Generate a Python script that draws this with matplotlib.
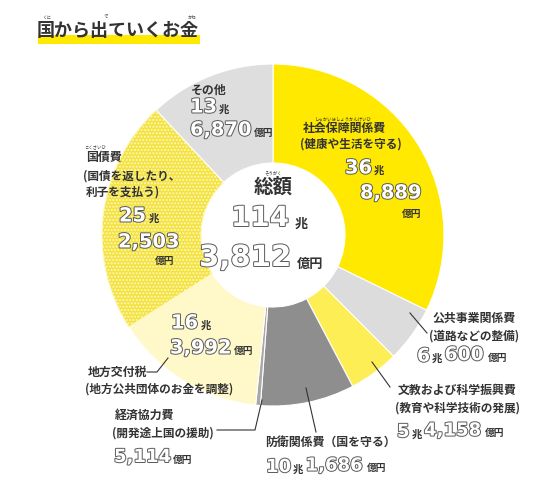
import matplotlib.pyplot as plt
import matplotlib.patheffects as pe
from matplotlib.patches import Rectangle

plt.rcParams['font.family'] = ['Noto Sans CJK JP', 'DejaVu Sans']
plt.rcParams['hatch.linewidth'] = 1.0

# 歳出 (clockwise from 12 o'clock)
names = ['社会保障関係費', '公共事業関係費', '文教および科学振興費', '防衛関係費',
         '経済協力費', '地方交付税', '国債費', 'その他']
cho = [36, 6, 5, 10, 0, 16, 25, 13]          # 兆
oku = [8889, 600, 4158, 1686, 5114, 3992, 2503, 6870]  # 億円
colors = ['#FFE900', '#DCDCDC', '#FDEE55', '#8E8E8E', '#A8A8A8',
          '#FFF8C9', '#F3E23E', '#DEDEDE']
values = [c * 10000 + o for c, o in zip(cho, oku)]
total = sum(values)
total_cho, total_oku = divmod(total, 10000)

fig = plt.figure(figsize=(5.4, 5.04), dpi=100)
ax = fig.add_axes([0, 0, 1, 1])

wedges, _ = ax.pie(values, colors=colors, center=(273, 235), radius=171,
                   startangle=-90, counterclock=True,
                   wedgeprops=dict(width=99, edgecolor='white', linewidth=0.8))
wedges[6].set_hatch('.....')
wedges[6].set_edgecolor('#FFF8C0')

ax.set_xlim(0, 540)
ax.set_ylim(504, 0)
ax.set_aspect('equal')
ax.axis('off')

INK = '#333333'
outline = [pe.Stroke(linewidth=1.4, foreground='#5a5a5a'), pe.Normal()]


def label(x, y, s, size=8.6):
    ax.text(x, y, s, fontsize=size, fontweight='bold', color=INK, va='center', ha='left')


def ruby(x, y, s):
    ax.text(x, y, s, fontsize=3.2, color=INK, va='center', ha='center')


def num(x, y, s, size=14):
    return ax.text(x, y, s, fontsize=size, color='white', va='center', ha='left',
                   family='DejaVu Sans', fontweight='bold', path_effects=outline)


def after(prev, s, size=7.5, gap=1.5, digits=False):
    # put the next piece just right of the previous text
    kw = dict(fontsize=size, va='bottom', ha='left',
              xycoords=prev, xy=(1, 0), textcoords='offset points', xytext=(gap, 1))
    if digits:
        kw['xytext'] = (gap, 0)
        return ax.annotate(s, color='white', family='DejaVu Sans', fontweight='bold',
                           path_effects=outline, **kw)
    return ax.annotate(s, color=INK, fontweight='bold', **kw)


def unit(x, y, s, size=7.5):
    ax.text(x, y, s, fontsize=size, fontweight='bold', color=INK, va='center', ha='left')


# title
ax.add_patch(Rectangle((38, 35), 162, 9, color='#FFE900', lw=0))
ax.text(37, 31, '国から出ていくお金', fontsize=13, fontweight='bold', color=INK,
        va='center', ha='left')
ruby(47, 17, 'くに')
ruby(106, 17, 'で')
ruby(192, 17, 'かね')

# center
ax.text(273, 187, '総額', fontsize=14, fontweight='bold', color=INK, va='center', ha='center')
ruby(273, 174, 'そうがく')
t = num(231, 218, f'{total_cho}', size=20)
after(t, '兆', size=9.5, gap=4)
t = num(199, 258, f'{total_oku:,}', size=21)
after(t, '億円', size=9.5, gap=4)

# 社会保障関係費
label(303, 128, names[0])
ruby(343, 119, 'しゃかいほしょうかんけいひ')
label(300, 144, '(健康や生活を守る)', size=8.4)
t = num(345, 168, f'{cho[0]}')
after(t, '兆')
num(360, 193, f'{oku[0]:,}')
unit(402, 214, '億円', size=7)

# その他
label(191, 90, names[7])
t = num(190, 107, f'{cho[7]}')
after(t, '兆')
t = num(190, 130, f'{oku[7]:,}')
after(t, '億円', size=7)

# 国債費
label(86, 157, names[6])
ruby(95, 148, 'こくさいひ')
label(83, 176, '(国債を返したり、', size=8.4)
label(86, 192, '利子を支払う)', size=8.4)
t = num(119, 216, f'{cho[6]}')
after(t, '兆')
num(118, 242, f'{oku[6]:,}')
unit(155, 261, '億円', size=7)

# 地方交付税
t = num(171, 323, f'{cho[5]}')
after(t, '兆')
t = num(170, 348, f'{oku[5]:,}')
after(t, '億円', size=7)
label(88, 372, names[5])
ax.plot([147, 157, 168], [372, 372, 358], color=INK, lw=0.8)
label(85, 389, '(地方公共団体のお金を調整)', size=8.4)

# 経済協力費
label(115, 415, names[4])
label(112, 433, '(開発途上国の援助)', size=8.4)
ax.plot([217, 255, 262], [430, 430, 400], color=INK, lw=0.8)
t = num(114, 457, f'{oku[4]:,}', size=13)
after(t, '億円', size=7)

# 防衛関係費
label(265, 442, names[3] + '（国を守る）')
ax.plot([306, 316], [388, 432], color=INK, lw=0.8)
t = num(266, 467, f'{cho[3]}', size=13)
t = after(t, '兆')
t = after(t, f'{oku[3]:,}', size=13, digits=True)
after(t, '億円', size=7, gap=3)

# 公共事業関係費
label(432, 318, names[1])
label(429, 336, '(道路などの整備)', size=8.4)
ax.plot([410, 427], [313, 333], color=INK, lw=0.8)
t = num(417, 356, f'{cho[1]}', size=13.5)
t = after(t, '兆')
t = after(t, f'{oku[1]:,}', size=13.5, digits=True)
after(t, '億円', size=7, gap=3)

# 文教および科学振興費
label(398, 390, names[2])
label(395, 408, '(教育や科学技術の発展)', size=8.4)
ax.plot([372, 390], [362, 387], color=INK, lw=0.8)
t = num(397, 432, f'{cho[2]}', size=13)
t = after(t, '兆')
t = after(t, f'{oku[2]:,}', size=13, digits=True)
after(t, '億円', size=7, gap=3)

fig.savefig('out.png', dpi=100)
